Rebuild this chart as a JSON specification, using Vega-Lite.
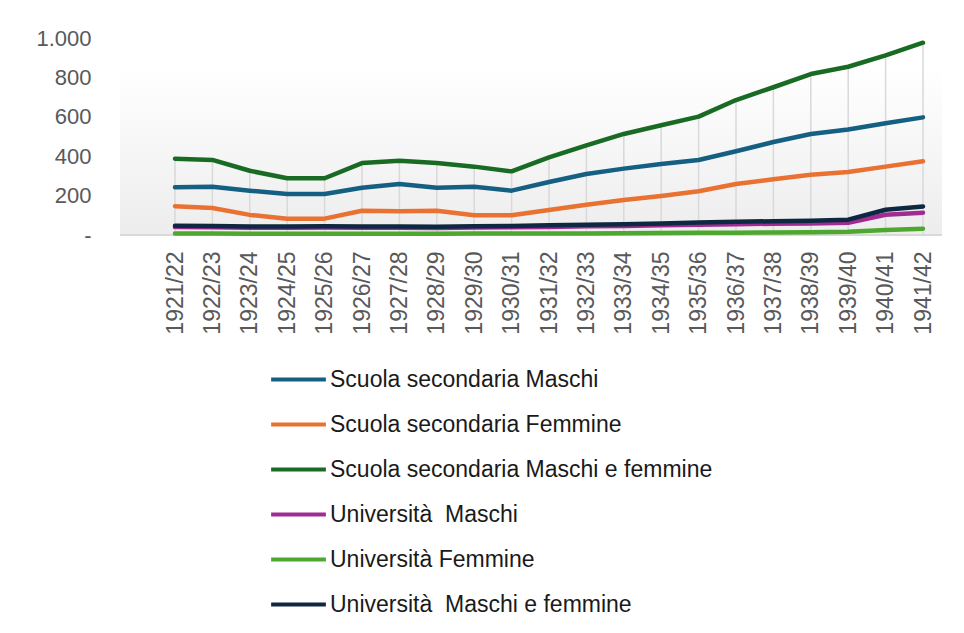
{
  "$schema": "https://vega.github.io/schema/vega-lite/v6.json",
  "autosize": {"type": "none"},
  "width": 822,
  "height": 197,
  "padding": {"left": 120, "top": 38, "right": 22, "bottom": 398},
  "background": "#ffffff",
  "config": {
    "font": "Liberation Sans",
    "view": {"stroke": null},
    "axis": {"labelOverlap": false, "labelBound": false},
    "axisY": {"labelOverlap": false, "labelFlush": false, "title": null, "domain": false, "ticks": false, "grid": false,
      "labelFontSize": 22, "labelColor": "#595959", "labelPadding": 29}
  },
  "data": {"values": [
    {"anno": "1921/22", "Scuola secondaria Maschi": 242, "Scuola secondaria Femmine": 146, "Scuola secondaria Maschi e femmine": 387, "Università\u00a0 Maschi": 40, "Università Femmine": 7, "Università\u00a0 Maschi e femmine": 47},
    {"anno": "1922/23", "Scuola secondaria Maschi": 245, "Scuola secondaria Femmine": 137, "Scuola secondaria Maschi e femmine": 381, "Università\u00a0 Maschi": 39, "Università Femmine": 7, "Università\u00a0 Maschi e femmine": 46},
    {"anno": "1923/24", "Scuola secondaria Maschi": 225, "Scuola secondaria Femmine": 102, "Scuola secondaria Maschi e femmine": 326, "Università\u00a0 Maschi": 37, "Università Femmine": 6, "Università\u00a0 Maschi e femmine": 43},
    {"anno": "1924/25", "Scuola secondaria Maschi": 208, "Scuola secondaria Femmine": 83, "Scuola secondaria Maschi e femmine": 288, "Università\u00a0 Maschi": 37, "Università Femmine": 6, "Università\u00a0 Maschi e femmine": 43},
    {"anno": "1925/26", "Scuola secondaria Maschi": 208, "Scuola secondaria Femmine": 83, "Scuola secondaria Maschi e femmine": 288, "Università\u00a0 Maschi": 38, "Università Femmine": 6, "Università\u00a0 Maschi e femmine": 44},
    {"anno": "1926/27", "Scuola secondaria Maschi": 240, "Scuola secondaria Femmine": 123, "Scuola secondaria Maschi e femmine": 365, "Università\u00a0 Maschi": 37, "Università Femmine": 6, "Università\u00a0 Maschi e femmine": 43},
    {"anno": "1927/28", "Scuola secondaria Maschi": 259, "Scuola secondaria Femmine": 120, "Scuola secondaria Maschi e femmine": 377, "Università\u00a0 Maschi": 37, "Università Femmine": 6, "Università\u00a0 Maschi e femmine": 43},
    {"anno": "1928/29", "Scuola secondaria Maschi": 240, "Scuola secondaria Femmine": 123, "Scuola secondaria Maschi e femmine": 365, "Università\u00a0 Maschi": 36, "Università Femmine": 6, "Università\u00a0 Maschi e femmine": 42},
    {"anno": "1929/30", "Scuola secondaria Maschi": 245, "Scuola secondaria Femmine": 100, "Scuola secondaria Maschi e femmine": 347, "Università\u00a0 Maschi": 38, "Università Femmine": 7, "Università\u00a0 Maschi e femmine": 45},
    {"anno": "1930/31", "Scuola secondaria Maschi": 225, "Scuola secondaria Femmine": 100, "Scuola secondaria Maschi e femmine": 323, "Università\u00a0 Maschi": 39, "Università Femmine": 7, "Università\u00a0 Maschi e femmine": 46},
    {"anno": "1931/32", "Scuola secondaria Maschi": 269, "Scuola secondaria Femmine": 127, "Scuola secondaria Maschi e femmine": 394, "Università\u00a0 Maschi": 41, "Università Femmine": 8, "Università\u00a0 Maschi e femmine": 49},
    {"anno": "1932/33", "Scuola secondaria Maschi": 310, "Scuola secondaria Femmine": 154, "Scuola secondaria Maschi e femmine": 455, "Università\u00a0 Maschi": 44, "Università Femmine": 8, "Università\u00a0 Maschi e femmine": 52},
    {"anno": "1933/34", "Scuola secondaria Maschi": 337, "Scuola secondaria Femmine": 178, "Scuola secondaria Maschi e femmine": 513, "Università\u00a0 Maschi": 46, "Università Femmine": 9, "Università\u00a0 Maschi e femmine": 55},
    {"anno": "1934/35", "Scuola secondaria Maschi": 360, "Scuola secondaria Femmine": 198, "Scuola secondaria Maschi e femmine": 557, "Università\u00a0 Maschi": 49, "Università Femmine": 10, "Università\u00a0 Maschi e femmine": 59},
    {"anno": "1935/36", "Scuola secondaria Maschi": 381, "Scuola secondaria Femmine": 222, "Scuola secondaria Maschi e femmine": 601, "Università\u00a0 Maschi": 52, "Università Femmine": 11, "Università\u00a0 Maschi e femmine": 63},
    {"anno": "1936/37", "Scuola secondaria Maschi": 425, "Scuola secondaria Femmine": 259, "Scuola secondaria Maschi e femmine": 685, "Università\u00a0 Maschi": 55, "Università Femmine": 12, "Università\u00a0 Maschi e femmine": 67},
    {"anno": "1937/38", "Scuola secondaria Maschi": 472, "Scuola secondaria Femmine": 283, "Scuola secondaria Maschi e femmine": 750, "Università\u00a0 Maschi": 57, "Università Femmine": 13, "Università\u00a0 Maschi e femmine": 70},
    {"anno": "1938/39", "Scuola secondaria Maschi": 513, "Scuola secondaria Femmine": 306, "Scuola secondaria Maschi e femmine": 817, "Università\u00a0 Maschi": 58, "Università Femmine": 14, "Università\u00a0 Maschi e femmine": 72},
    {"anno": "1939/40", "Scuola secondaria Maschi": 536, "Scuola secondaria Femmine": 320, "Scuola secondaria Maschi e femmine": 854, "Università\u00a0 Maschi": 62, "Università Femmine": 16, "Università\u00a0 Maschi e femmine": 78},
    {"anno": "1940/41", "Scuola secondaria Maschi": 567, "Scuola secondaria Femmine": 347, "Scuola secondaria Maschi e femmine": 912, "Università\u00a0 Maschi": 103, "Università Femmine": 25, "Università\u00a0 Maschi e femmine": 128},
    {"anno": "1941/42", "Scuola secondaria Maschi": 597, "Scuola secondaria Femmine": 374, "Scuola secondaria Maschi e femmine": 976, "Università\u00a0 Maschi": 113, "Università Femmine": 32, "Università\u00a0 Maschi e femmine": 145}
  ]},
  "layer": [
    {
      "mark": {"type": "rect", "color": {"gradient": "linear", "x1": 0, "y1": 0, "x2": 0, "y2": 1,
        "stops": [{"offset": 0, "color": "#ffffff"}, {"offset": 0.15, "color": "#ffffff"}, {"offset": 1, "color": "#ededed"}]}},
      "encoding": {
        "y": {"datum": 1000, "type": "quantitative", "scale": {"domain": [0, 1000], "nice": false},
          "axis": {"values": [0, 200, 400, 600, 800, 1000], "tickCount": 6, "labelOverlap": false,
            "labelExpr": "datum.value == 0 ? '-' : datum.value == 1000 ? '1.000' : datum.label"}},
        "y2": {"datum": 0}
      }
    },
    {
      "mark": {"type": "rule", "color": "#d9d9d9", "strokeWidth": 2},
      "encoding": {
        "y": {"datum": 0, "type": "quantitative"}
      }
    },
    {
      "mark": {"type": "rule", "color": "#d9d9d9", "strokeWidth": 1.5},
      "encoding": {
        "x": {
          "field": "anno", "type": "ordinal",
          "scale": {"type": "point", "range": [55, 803], "padding": 0},
          "axis": {"title": null, "domain": false, "ticks": false, "labelAngle": 270, "labelFontSize": 23, "labelColor": "#595959", "labelPadding": 16}
        },
        "y": {"field": "Scuola secondaria Maschi e femmine", "type": "quantitative"},
        "y2": {"datum": 0}
      }
    },
    {
      "transform": [
        {"fold": ["Scuola secondaria Maschi", "Scuola secondaria Femmine", "Scuola secondaria Maschi e femmine", "Università\u00a0 Maschi", "Università Femmine", "Università\u00a0 Maschi e femmine"], "as": ["serie", "valore"]}
      ],
      "mark": {"type": "line", "strokeWidth": 4.5, "strokeCap": "round", "strokeJoin": "round"},
      "encoding": {
        "x": {"field": "anno", "type": "ordinal"},
        "y": {"field": "valore", "type": "quantitative"},
        "color": {
          "field": "serie", "type": "nominal",
          "scale": {
            "domain": ["Scuola secondaria Maschi", "Scuola secondaria Femmine", "Scuola secondaria Maschi e femmine", "Università\u00a0 Maschi", "Università Femmine", "Università\u00a0 Maschi e femmine"],
            "range": ["#156082", "#E97132", "#196B24", "#A02B93", "#4EA72E", "#0E2841"]
          },
          "legend": {
            "title": null, "orient": "none", "legendX": 149, "legendY": 312, "direction": "vertical",
            "symbolType": "stroke", "symbolSize": 3000, "symbolStrokeWidth": 4,
            "labelFontSize": 23, "labelColor": "#1a1a1a", "labelOffset": 2, "rowPadding": 3, "labelLimit": 600
          }
        }
      }
    }
  ]
}
